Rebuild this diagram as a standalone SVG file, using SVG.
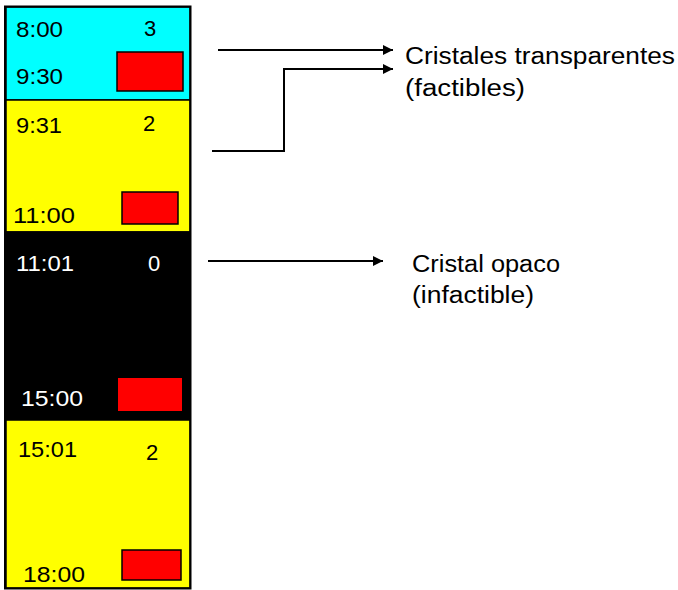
<svg xmlns="http://www.w3.org/2000/svg" width="678" height="590" viewBox="0 0 678 590">
<style>
  .t { font-family: "Liberation Sans", Arial, sans-serif; font-size: 22px; fill: #000; }
  .w { fill: #fff; }
  .lbl { font-family: "Liberation Sans", Arial, sans-serif; font-size: 23px; fill: #000; }
  .red { fill: #ff0000; stroke: #000; stroke-width: 1.5; }
  .conn { fill: none; stroke: #000; stroke-width: 2; }
</style>
<defs>
  <marker id="ah" viewBox="0 0 10 10" refX="10" refY="5" markerWidth="11" markerHeight="10" markerUnits="userSpaceOnUse" orient="auto">
    <path d="M0,0 L10,5 L0,10 z" fill="#000"/>
  </marker>
</defs>
<rect width="678" height="590" fill="#fff"/>
<g id="block-0800">
  <rect x="6" y="7" width="184" height="93" fill="#00ffff" stroke="#000" stroke-width="1.5"/>
  <text class="t" x="16" y="37" textLength="47" lengthAdjust="spacingAndGlyphs">8:00</text>
  <text class="t" x="144" y="36">3</text>
  <text class="t" x="16" y="84" textLength="47" lengthAdjust="spacingAndGlyphs">9:30</text>
  <rect class="red" x="117" y="52" width="66" height="39"/>
</g>
<g id="block-0931">
  <rect x="6" y="100" width="184" height="132" fill="#ffff00" stroke="#000" stroke-width="1.5"/>
  <text class="t" x="16" y="133" textLength="46" lengthAdjust="spacingAndGlyphs">9:31</text>
  <text class="t" x="143" y="131">2</text>
  <text class="t" x="13" y="223" textLength="62" lengthAdjust="spacingAndGlyphs">11:00</text>
  <rect class="red" x="122" y="192" width="56" height="32"/>
</g>
<g id="block-1101">
  <rect x="6" y="232" width="184" height="188" fill="#000" stroke="#000" stroke-width="1.5"/>
  <text class="t w" x="16" y="271" textLength="58" lengthAdjust="spacingAndGlyphs">11:01</text>
  <text class="t w" x="148" y="271">0</text>
  <text class="t w" x="21" y="406" textLength="62" lengthAdjust="spacingAndGlyphs">15:00</text>
  <rect x="118" y="378" width="64" height="33" fill="#ff0000"/>
</g>
<g id="block-1501">
  <rect x="6" y="420" width="184" height="168" fill="#ffff00" stroke="#000" stroke-width="1.5"/>
  <text class="t" x="18" y="457" textLength="59" lengthAdjust="spacingAndGlyphs">15:01</text>
  <text class="t" x="146" y="460">2</text>
  <text class="t" x="23" y="582" textLength="62" lengthAdjust="spacingAndGlyphs">18:00</text>
  <rect class="red" x="122" y="550" width="59" height="30"/>
</g>
<rect x="5" y="6.5" width="185.5" height="582" fill="none" stroke="#000" stroke-width="2"/>
<g id="connectors">
  <path class="conn" d="M218,50 H393" marker-end="url(#ah)"/>
  <path class="conn" d="M212,151 H284 V69 H393" marker-end="url(#ah)"/>
  <path class="conn" d="M208,261 H383" marker-end="url(#ah)"/>
</g>
<g id="label-transparentes">
  <text class="lbl" x="405" y="64" textLength="270" lengthAdjust="spacingAndGlyphs">Cristales transparentes</text>
  <text class="lbl" x="405" y="96" textLength="120" lengthAdjust="spacingAndGlyphs">(factibles)</text>
</g>
<g id="label-opaco">
  <text class="lbl" x="412" y="272" textLength="148" lengthAdjust="spacingAndGlyphs">Cristal opaco</text>
  <text class="lbl" x="412" y="303" textLength="122" lengthAdjust="spacingAndGlyphs">(infactible)</text>
</g>
</svg>
